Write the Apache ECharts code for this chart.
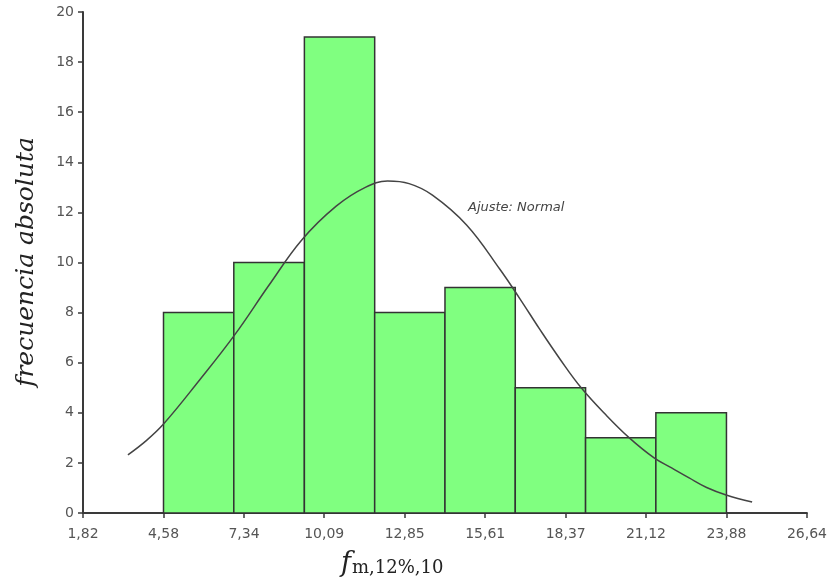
<!DOCTYPE html>
<html>
<head>
<meta charset="utf-8">
<script src="https://cdn.jsdelivr.net/npm/echarts@6/dist/echarts.min.js"></script>
<style>
  html, body { margin: 0; padding: 0; background: #fff; }
  #chart { width: 830px; height: 585px; }
</style>
</head>
<body>
<div id="chart"></div>
<script>
// bordes de las clases y frecuencias
var binEdges = [4.58, 6.99, 9.41, 11.82, 14.23, 16.64, 19.05, 21.46, 23.88];
var counts = [8, 10, 19, 8, 9, 5, 3, 4];

// marcas del eje x
var xTicks = [1.82, 4.58, 7.34, 10.09, 12.85, 15.61, 18.37, 21.12, 23.88, 26.64];
var xTickLabels = ['1,82', '4,58', '7,34', '10,09', '12,85', '15,61', '18,37', '21,12', '23,88', '26,64'];

// curva de ajuste normal
var fitX = [3.36, 4.0, 4.58, 5.79, 7.02, 8.2, 9.32, 10.5, 11.5, 12.26, 13.0, 13.8, 14.97, 16.1, 16.8, 17.47, 18.2, 18.9, 19.76, 20.55, 21.4, 22.0, 22.6, 23.2, 23.87, 24.76];
var fitY = [2.32, 2.9, 3.55, 5.27, 7.11, 9.1, 10.9, 12.25, 13.0, 13.25, 13.15, 12.69, 11.5, 9.75, 8.55, 7.35, 6.1, 5.0, 3.9, 3.0, 2.2, 1.8, 1.4, 1.02, 0.72, 0.44];

var chart = echarts.init(document.getElementById('chart'));

var barData = [];
for (var i = 0; i < counts.length; i++) {
    barData.push([binEdges[i], binEdges[i + 1], counts[i]]);
}
var fitData = fitX.map(function (x, i) { return [x, fitY[i]]; });

var axisColor = '#3a3a3a';
var labelFont = { color: '#555', fontFamily: 'DejaVu Sans', fontSize: 14 };

var option = {
    animation: false,
    backgroundColor: '#fff',
    grid: { left: 83, right: 22, top: 12, bottom: 72 },
    xAxis: {
        type: 'value',
        min: 1.82,
        max: 26.64,
        splitLine: { show: false },
        axisLine: { onZero: false, lineStyle: { color: axisColor, width: 2 } },
        axisTick: { customValues: xTicks, length: 5, lineStyle: { color: axisColor, width: 1.5 } },
        axisLabel: {
            customValues: xTicks,
            margin: 14,
            color: labelFont.color, fontFamily: labelFont.fontFamily, fontSize: labelFont.fontSize,
            formatter: function (v) {
                var k = xTicks.indexOf(v);
                return k >= 0 ? xTickLabels[k] : '';
            }
        }
    },
    yAxis: {
        type: 'value',
        min: 0,
        max: 20,
        interval: 2,
        splitLine: { show: false },
        axisLine: { show: true, lineStyle: { color: axisColor, width: 2 } },
        axisTick: { show: true, length: 5, lineStyle: { color: axisColor, width: 1.5 } },
        axisLabel: { margin: 9, color: labelFont.color, fontFamily: labelFont.fontFamily, fontSize: labelFont.fontSize }
    },
    graphic: [
        {
            type: 'text',
            x: 26, y: 262,
            rotation: Math.PI / 2,
            style: {
                text: 'frecuencia absoluta',
                fill: '#222',
                font: 'italic 25px "DejaVu Serif"',
                align: 'center',
                verticalAlign: 'middle'
            }
        },
        {
            type: 'text',
            left: 468, top: 201,
            style: {
                text: 'Ajuste: Normal',
                fill: '#444',
                font: 'italic 13px "DejaVu Sans"'
            }
        },
        {
            type: 'text',
            left: 341, top: 550,
            style: {
                text: '{f|f}{s|m,12%,10}',
                rich: {
                    f: { font: 'italic 27px "DejaVu Serif"', fill: '#222' },
                    s: { font: '18px "DejaVu Serif"', fill: '#222', padding: [10, 0, 0, 1] }
                }
            }
        }
    ],
    series: [
        {
            type: 'custom',
            data: barData,
            encode: { x: [0, 1], y: 2 },
            renderItem: function (params, api) {
                var p0 = api.coord([api.value(0), 0]);
                var p1 = api.coord([api.value(1), api.value(2)]);
                return {
                    type: 'rect',
                    shape: { x: p0[0], y: p1[1], width: p1[0] - p0[0], height: p0[1] - p1[1] },
                    style: { fill: '#80ff80', stroke: '#333', lineWidth: 1.5 }
                };
            },
            z: 2
        },
        {
            type: 'line',
            data: fitData,
            smooth: 0.4,
            showSymbol: false,
            lineStyle: { color: '#444', width: 1.5 },
            z: 3
        }
    ]
};

chart.setOption(option);
</script>
</body>
</html>
